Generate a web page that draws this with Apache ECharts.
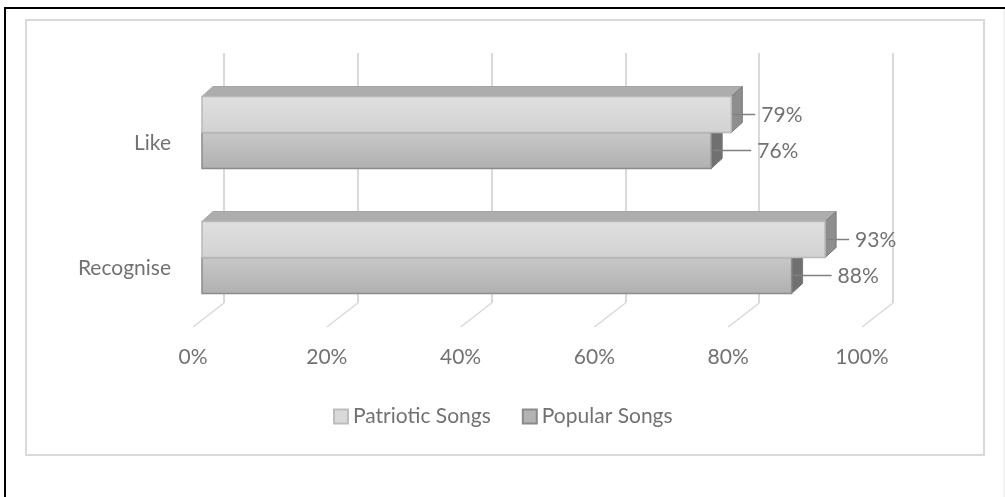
<!DOCTYPE html>
<html><head><meta charset="utf-8">
<script src="https://cdn.jsdelivr.net/npm/echarts@6/dist/echarts.min.js"></script>
<style>html,body{margin:0;padding:0;background:#fff}#c{width:1005px;height:497px}</style>
</head><body><div id="c"></div>
<script>
const categories = ['Recognise', 'Like'];
const seriesNames = ['Patriotic Songs', 'Popular Songs'];
const patrioticValues = [93, 79];
const popularValues = [88, 76];
const tickValues = [0, 20, 40, 60, 80, 100];

const FONT = 'Lato';
const TXT = '#727272';
const D = 11, DY = 10;

const styles = {
  'Patriotic Songs': {front: ['#e0e0e0', '#d2d2d2'], top: '#adadad', side: '#8e8e8e', border: '#b8b8b8', pos: -1, lab: 30, legend: '#d9d9d9', legendBorder: '#bdbdbd'},
  'Popular Songs': {front: ['#c8c8c8', '#b0b0b0'], top: '#a0a0a0', side: '#707070', border: '#8c8c8c', pos: 0, lab: 46, legend: '#b3b3b3', legendBorder: '#8a8a8a'}
};

function barRenderer(name) {
  const st = styles[name];
  return function (params, api) {
    const cat = api.value(0), val = api.value(1);
    const s = api.coord([0, cat]);
    const e = api.coord([val, cat]);
    const band = api.size([0, 1])[1];
    const h = band * 0.288;
    const y0 = s[1] + st.pos * h, y1 = y0 + h;
    const x0 = s[0], x1 = e[0];
    const cy = (y0 + y1) / 2;
    const children = [];
    if (st.pos < 0) {
      children.push({type: 'polygon', shape: {points: [[x0, y0], [x0 + D, y0 - DY], [x1 + D, y0 - DY], [x1, y0]]},
        style: {fill: st.top, stroke: '#a5a5a5', lineWidth: 1}});
    }
    children.push({type: 'polygon', shape: {points: [[x1, y0], [x1 + D, y0 - DY], [x1 + D, y1 - DY], [x1, y1]]},
      style: {fill: st.side, stroke: '#7a7a7a', lineWidth: 1}});
    children.push({type: 'rect', shape: {x: x0, y: y0, width: x1 - x0, height: h},
      style: {fill: {type: 'linear', x: 0, y: 0, x2: 0, y2: 1, colorStops: [{offset: 0, color: st.front[0]}, {offset: 1, color: st.front[1]}]},
        stroke: st.border, lineWidth: 1.5}});
    const tx = x1 + st.lab;
    children.push({type: 'line', shape: {x1: x1 + 2, y1: cy, x2: tx - 6, y2: cy},
      style: {stroke: '#808080', lineWidth: 1.5}});
    children.push({type: 'text', style: {text: val + '%', x: tx, y: cy + 1, fill: TXT, fontSize: 21, fontFamily: FONT, verticalAlign: 'middle', align: 'left'}});
    return {type: 'group', children: children};
  };
}

const chart = echarts.init(document.getElementById('c'), null, {renderer: 'canvas'});
const option = {
  backgroundColor: '#fff',
  animation: false,
  textStyle: {fontFamily: FONT},
  graphic: [
    {type: 'line', shape: {x1: 5, y1: 8, x2: 5, y2: 497}, style: {stroke: '#000', lineWidth: 2}},
    {type: 'line', shape: {x1: 4, y1: 8, x2: 1005, y2: 8}, style: {stroke: '#000', lineWidth: 2}},
    {type: 'line', shape: {x1: 1004, y1: 9, x2: 1004, y2: 497}, style: {stroke: '#e6e6e6', lineWidth: 1}},
    {type: 'rect', shape: {x: 26, y: 20, width: 958, height: 435}, style: {fill: 'none', stroke: '#d9d9d9', lineWidth: 2}, z: -1}
  ],
  grid: [
    {left: 202, width: 670, top: 70, height: 250},
    {left: 224, width: 669, top: 53, height: 250}
  ],
  xAxis: [
    {gridIndex: 0, type: 'value', min: 0, max: 100, show: false},
    {gridIndex: 1, type: 'value', min: 0, max: 100, interval: 20,
      axisLine: {show: false}, axisTick: {show: false},
      splitLine: {show: true, lineStyle: {color: '#d9d9d9', width: 2}},
      axisLabel: {formatter: '{value}%', color: TXT, fontSize: 21, fontFamily: FONT, margin: 44, padding: [0, 62, 0, 0]}}
  ],
  yAxis: [
    {gridIndex: 0, type: 'category', data: categories,
      axisLine: {show: false}, axisTick: {show: false}, splitLine: {show: false},
      axisLabel: {color: TXT, fontSize: 21, fontFamily: FONT, margin: 31, verticalAlign: 'top'}},
    {gridIndex: 1, type: 'value', min: 0, max: 1, show: false}
  ],
  legend: {
    data: seriesNames,
    left: 333, top: 406, padding: 0,
    itemWidth: 14, itemHeight: 14, itemGap: 31,
    icon: 'rect',
    textStyle: {color: TXT, fontSize: 21, fontFamily: FONT}
  },
  series: [
    {type: 'custom', name: 'floor', xAxisIndex: 1, yAxisIndex: 1, clip: false, silent: true,
      data: tickValues.map(v => [v, 0]),
      renderItem: function (params, api) {
        const p = api.coord([api.value(0), 0]);
        return {type: 'line', shape: {x1: p[0], y1: p[1], x2: p[0] - 31, y2: p[1] + 24}, style: {stroke: '#d9d9d9', lineWidth: 1.5}};
      }},
    {type: 'custom', name: 'Popular Songs', xAxisIndex: 0, yAxisIndex: 0, clip: false,
      itemStyle: {color: styles['Popular Songs'].legend, borderColor: styles['Popular Songs'].legendBorder, borderWidth: 1.5},
      data: popularValues.map((v, i) => [i, v]),
      encode: {x: 1, y: 0},
      renderItem: barRenderer('Popular Songs')},
    {type: 'custom', name: 'Patriotic Songs', xAxisIndex: 0, yAxisIndex: 0, clip: false,
      itemStyle: {color: styles['Patriotic Songs'].legend, borderColor: styles['Patriotic Songs'].legendBorder, borderWidth: 1.5},
      data: patrioticValues.map((v, i) => [i, v]),
      encode: {x: 1, y: 0},
      renderItem: barRenderer('Patriotic Songs')}
  ]
};
chart.setOption(option);
</script></body></html>
